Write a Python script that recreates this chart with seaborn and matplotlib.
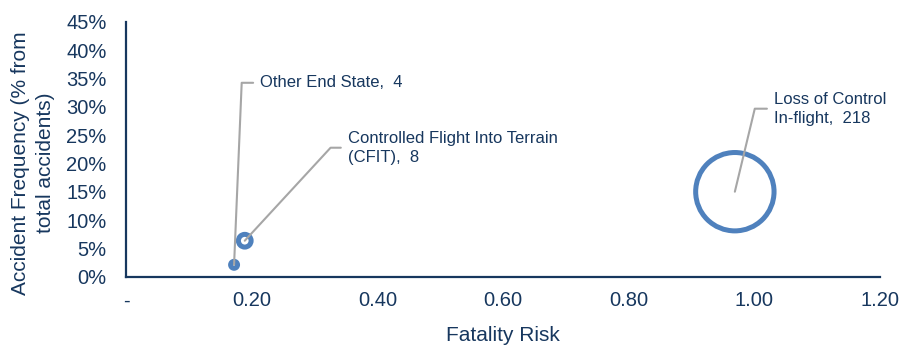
import matplotlib
matplotlib.use("Agg")
import matplotlib.pyplot as plt
import seaborn as sns
import pandas as pd

# ---- data ----
categories = ["Other End State", "Controlled Flight Into Terrain", "Loss of Control In-flight"]
fatality_risk = [0.172, 0.189, 0.969]
accident_freq = [0.021, 0.0635, 0.150]
accident_count = [4, 8, 218]
point_labels = ["Other End State,  4",
                "Controlled Flight Into Terrain\n(CFIT),  8",
                "Loss of Control\nIn-flight,  218"]
x_ticks = [0.0, 0.2, 0.4, 0.6, 0.8, 1.0, 1.2]
x_tick_labels = ["-", "0.20", "0.40", "0.60", "0.80", "1.00", "1.20"]
y_ticks = [0.00, 0.05, 0.10, 0.15, 0.20, 0.25, 0.30, 0.35, 0.40, 0.45]
y_tick_labels = ["0%", "5%", "10%", "15%", "20%", "25%", "30%", "35%", "40%", "45%"]

NAVY = "#17375E"
BLUE = "#4F81BD"
GRAY = "#A6A6A6"

sns.set_theme(style="white")
plt.rcParams["font.family"] = ["Liberation Sans", "DejaVu Sans"]

df = pd.DataFrame({"category": categories, "risk": fatality_risk,
                   "freq": accident_freq, "count": accident_count})

W, H = 901, 346
fig = plt.figure(figsize=(W / 100, H / 100), dpi=100)
ax = fig.add_axes([126 / W, 69.3 / H, 754 / W, 255 / H])

sns.scatterplot(data=df, x="risk", y="freq", size="count", sizes=(25, 3184),
                legend=False, ax=ax, color=BLUE, facecolor="none",
                edgecolor=BLUE, linewidth=3.6, zorder=3)
for coll in ax.collections:
    coll.set_facecolor("none")
    coll.set_edgecolor(BLUE)
    coll.set_linewidth(3.6)

# leader-line labels (offsets in pixels from bubble centre, leader angle)
label_layout = [((26, 182), 87.6), ((103, 93), 47.3), ((39, 83), 76.5)]
for (xv, yv, txt, (off, ang)) in zip(fatality_risk, accident_freq, point_labels, label_layout):
    ax.annotate(txt, xy=(xv, yv), xytext=off, textcoords="offset pixels",
                ha="left", va="center", fontsize=12, color=NAVY, linespacing=1.3,
                arrowprops=dict(arrowstyle="-", color=GRAY, lw=1.5,
                                relpos=(0, 0.5), patchA=None, shrinkA=5, shrinkB=0,
                                connectionstyle=f"angle,angleA=0,angleB={ang},rad=0"),
                zorder=4)

ax.set_xlim(0, 1.2)
ax.set_ylim(0, 0.45)
ax.set_xticks(x_ticks)
ax.set_xticklabels(x_tick_labels)
ax.set_yticks(y_ticks)
ax.set_yticklabels(y_tick_labels)

sns.despine(ax=ax)
for s in ["left", "bottom"]:
    ax.spines[s].set_color(NAVY)
    ax.spines[s].set_linewidth(1.6)

ax.tick_params(axis="both", direction="out", length=4.5, width=1.5, color=NAVY,
               labelsize=14.5, labelcolor=NAVY)
ax.tick_params(axis="y", pad=9.5)
ax.tick_params(axis="x", pad=6)

ax.set_xlabel("Fatality Risk", fontsize=15, color=NAVY, labelpad=11)
ax.set_ylabel("Accident Frequency (% from\ntotal accidents)", fontsize=15, color=NAVY,
              linespacing=1.35)
ax.yaxis.set_label_coords(-0.1235, 0.4465)
ax.yaxis.label.set_va("center")

fig.savefig("out.png", dpi=100)
